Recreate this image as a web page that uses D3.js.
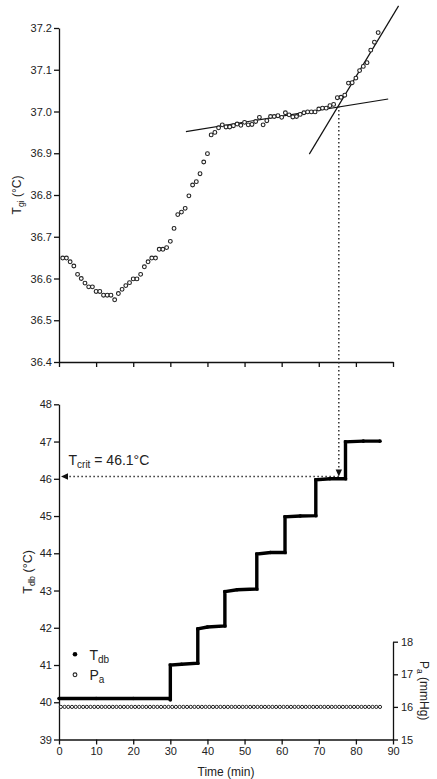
<!DOCTYPE html>
<html>
<head>
<meta charset="utf-8">
<script src="https://cdnjs.cloudflare.com/ajax/libs/d3/7.8.5/d3.min.js"></script>
<style>
  body { margin: 0; background: #fff; }
  text { font-family: "Liberation Sans", Arial, Helvetica, sans-serif; fill: #222; }
</style>
</head>
<body>
<div id="content"></div>
<script>
// core temperature (top panel), one reading per minute
var tgiTime = [1,2,3,4,5,6,7,8,9,10,11,12,13,14,15,16,17,18,19,20,21,22,23,24,25,26,27,28,29,30,
  31,32,33,34,35,36,37,38,39,40,41,42,43,44,45,46,47,48,49,50,51,52,53,54,55,56,57,58,59,60,
  61,62,63,64,65,66,67,68,69,70,71,72,73,74,75,76,77,78,79,80,81,82,83,84,85,86];
var tgiValue = [36.649,36.649,36.640,36.630,36.610,36.600,36.589,36.580,36.580,36.569,
  36.569,36.560,36.560,36.560,36.549,36.564,36.574,36.583,36.590,36.599,
  36.599,36.610,36.628,36.640,36.649,36.649,36.670,36.670,36.674,36.689,
  36.720,36.753,36.759,36.768,36.798,36.824,36.832,36.851,36.879,36.899,
  36.944,36.950,36.961,36.968,36.963,36.963,36.966,36.970,36.967,36.974,
  36.968,36.969,36.976,36.986,36.968,36.978,36.988,36.988,36.990,36.986,
  36.997,36.992,36.987,36.988,36.993,36.997,36.999,36.999,36.999,37.006,
  37.008,37.008,37.014,37.017,37.033,37.034,37.039,37.068,37.069,37.080,
  37.098,37.108,37.117,37.147,37.166,37.189];

// the two fitted lines (start / end)
var fitPlateauTime = [34.2, 88.7];
var fitPlateauValue = [36.952, 37.030];
var fitRiseTime = [67.45, 91.5];
var fitRiseValue = [36.898, 37.253];

// dry bulb temperature steps (bottom panel)
var tdbTime = [0, 10, 20, 29.8, 30, 30, 33, 37.4, 37.4, 40, 44.7, 44.7, 48, 53.3, 53.3, 57, 60.9,
  60.9, 65, 69.2, 69.2, 73, 77.2, 77.2, 82, 86.5];
var tdbValue = [40.10, 40.10, 40.10, 40.10, 40.06, 41.00, 41.02, 41.05, 41.97, 42.02, 42.05, 42.97,
  43.02, 43.04, 43.98, 44.02, 44.02, 44.98, 45.00, 45.01, 45.97, 46.00, 46.00, 46.99, 47.01, 47.01];

// water vapour pressure (right axis)
var paTime = [0.5,1.5,2.5,3.5,4.5,5.5,6.5,7.5,8.5,9.5,10.5,11.5,12.5,13.5,14.5,15.5,16.5,17.5,18.5,19.5,
  20.5,21.5,22.5,23.5,24.5,25.5,26.5,27.5,28.5,29.5,30.5,31.5,32.5,33.5,34.5,35.5,36.5,37.5,38.5,39.5,
  40.5,41.5,42.5,43.5,44.5,45.5,46.5,47.5,48.5,49.5,50.5,51.5,52.5,53.5,54.5,55.5,56.5,57.5,58.5,59.5,
  60.5,61.5,62.5,63.5,64.5,65.5,66.5,67.5,68.5,69.5,70.5,71.5,72.5,73.5,74.5,75.5,76.5,77.5,78.5,79.5,
  80.5,81.5,82.5,83.5,84.5,85.5,86.5];
var paValue = [16,16,16,16,16,16,16,16,16,16,16,16,16,16,16,16,16,16,16,16,
  16,16,16,16,16,16,16,16,16,16,16,16,16,16,16,16,16,16,16,16,
  16,16,16,16,16,16,16,16,16,16,16,16,16,16,16,16,16,16,16,16,
  16,16,16,16,16,16,16,16,16,16,16,16,16,16,16,16,16,16,16,16,
  16,16,16,16,16,16,16];

// critical point
var critTime = 75.4;
var critTgi = 37.013;
var critTdb = 46.06;
var critLabel = "46.1";

var xTicks = [0,10,20,30,40,50,60,70,80,90];
var tgiTicks = [36.4,36.5,36.6,36.7,36.8,36.9,37.0,37.1,37.2];
var tdbTicks = [39,40,41,42,43,44,45,46,47,48];
var paTicks = [15,16,17,18];

var width = 437, height = 779;
var svg = d3.select('div#content').append('svg')
  .attr('width', width)
  .attr('height', height);

var x = d3.scaleLinear().domain([0, 90]).range([59, 393]);
var yTop = d3.scaleLinear().domain([36.4, 37.2]).range([362, 28]);
var yBot = d3.scaleLinear().domain([39, 48]).range([739.5, 404.3]);
var yPa = d3.scaleLinear().domain([15, 18]).range([739.5, 641.7]);

function styleAxis(g){
  g.selectAll('path').attr('stroke', '#111').attr('stroke-width', 1.3);
  g.selectAll('line').attr('stroke', '#111').attr('stroke-width', 1.3);
  g.selectAll('text').attr('font-size', '11px').attr('font-family', '"Liberation Sans", Arial, sans-serif').attr('fill', '#222');
}

// ---- top panel axes
svg.append('g')
  .attr('transform', 'translate(' + x(0) + ',0)')
  .call(d3.axisLeft(yTop).tickValues(tgiTicks).tickFormat(d3.format('.1f')).tickSize(5).tickSizeOuter(0).tickPadding(2))
  .call(styleAxis);
svg.append('g')
  .attr('transform', 'translate(0,' + yTop(36.4) + ')')
  .call(d3.axisBottom(x).tickValues(xTicks).tickFormat('').tickSize(5).tickSizeOuter(0))
  .call(styleAxis);

// ---- bottom panel axes
svg.append('g')
  .attr('transform', 'translate(' + x(0) + ',0)')
  .call(d3.axisLeft(yBot).tickValues(tdbTicks).tickFormat(d3.format('d')).tickSize(5).tickSizeOuter(0).tickPadding(2))
  .call(styleAxis);
svg.append('g')
  .attr('transform', 'translate(0,' + yBot(39) + ')')
  .call(d3.axisBottom(x).tickValues(xTicks).tickFormat(d3.format('d')).tickSize(5).tickSizeOuter(0).tickPadding(3))
  .call(styleAxis);
svg.append('g')
  .attr('transform', 'translate(' + x(90) + ',0)')
  .call(d3.axisRight(yPa).tickValues(paTicks).tickFormat(d3.format('d')).tickSize(5).tickSizeOuter(0).tickPadding(3))
  .call(styleAxis);

// ---- axis titles
var tl = svg.append('text').attr('transform', 'translate(21,' + yTop(36.8) + ') rotate(-90)')
  .attr('text-anchor', 'middle').attr('font-size', '12px');
tl.append('tspan').text('T');
tl.append('tspan').attr('font-size', '8.5px').attr('dy', 3).text('gi');
tl.append('tspan').attr('dy', -3).text(' (\u00B0C)');

var bl = svg.append('text').attr('transform', 'translate(32,' + yBot(43.5) + ') rotate(-90)')
  .attr('text-anchor', 'middle').attr('font-size', '12.5px');
bl.append('tspan').text('T');
bl.append('tspan').attr('font-size', '9px').attr('dy', 3).text('db');
bl.append('tspan').attr('dy', -3).text(' (\u00B0C)');

var rl = svg.append('text').attr('transform', 'translate(420,' + yPa(16.5) + ') rotate(90)')
  .attr('text-anchor', 'middle').attr('font-size', '12px');
rl.append('tspan').text('P');
rl.append('tspan').attr('font-size', '8.5px').attr('dy', 3).text('a');
rl.append('tspan').attr('dy', -3).text(' (mmHg)');

svg.append('text').attr('x', (x(0) + x(90)) / 2).attr('y', 776)
  .attr('text-anchor', 'middle').attr('font-size', '12px').text('Time (min)');

// ---- fitted lines
var line = d3.line().x(function(d){ return x(d[0]); }).y(function(d){ return yTop(d[1]); });
svg.append('path').attr('d', line(d3.zip(fitPlateauTime, fitPlateauValue)))
  .attr('stroke', '#111').attr('stroke-width', 1.2).attr('fill', 'none');
svg.append('path').attr('d', line(d3.zip(fitRiseTime, fitRiseValue)))
  .attr('stroke', '#111').attr('stroke-width', 1.2).attr('fill', 'none');

// ---- Tgi points
svg.append('g').selectAll('circle')
  .data(d3.zip(tgiTime, tgiValue))
  .enter().append('circle')
  .attr('cx', function(d){ return x(d[0]); })
  .attr('cy', function(d){ return yTop(d[1]); })
  .attr('r', 1.9)
  .attr('fill', '#fff')
  .attr('stroke', '#222')
  .attr('stroke-width', 1.1);

// ---- dotted critical lines
var cx = x(critTime);
svg.append('line')
  .attr('x1', cx).attr('x2', cx)
  .attr('y1', yTop(critTgi)).attr('y2', yBot(critTdb) - 6)
  .attr('stroke', '#222').attr('stroke-width', 1.4).attr('stroke-dasharray', '1.4,2.6');
svg.append('path')
  .attr('d', 'M' + (cx - 3.2) + ',' + (yBot(critTdb) - 7) + 'L' + (cx + 3.2) + ',' + (yBot(critTdb) - 7) + 'L' + cx + ',' + yBot(critTdb) + 'Z')
  .attr('fill', '#111');
svg.append('line')
  .attr('x1', cx).attr('x2', x(0) + 8)
  .attr('y1', yBot(critTdb)).attr('y2', yBot(critTdb))
  .attr('stroke', '#222').attr('stroke-width', 1.4).attr('stroke-dasharray', '1.4,2.6');
svg.append('path')
  .attr('d', 'M' + (x(0) + 2) + ',' + yBot(critTdb) + 'L' + (x(0) + 9) + ',' + (yBot(critTdb) - 3.3) + 'L' + (x(0) + 9) + ',' + (yBot(critTdb) + 3.3) + 'Z')
  .attr('fill', '#111');

var ct = svg.append('text').attr('x', 68.5).attr('y', 464.5).attr('font-size', '14px');
ct.append('tspan').text('T');
ct.append('tspan').attr('font-size', '10px').attr('dy', 3).text('crit');
ct.append('tspan').attr('dy', -3).text(' = ' + critLabel + '\u00B0C');

// ---- Pa points
svg.append('g').selectAll('circle')
  .data(d3.zip(paTime, paValue))
  .enter().append('circle')
  .attr('cx', function(d){ return x(d[0]); })
  .attr('cy', function(d){ return yPa(d[1]); })
  .attr('r', 1.6)
  .attr('fill', '#fff')
  .attr('stroke', '#222')
  .attr('stroke-width', 1);

// ---- Tdb step line
var tdbLine = d3.line().x(function(d){ return x(d[0]); }).y(function(d){ return yBot(d[1]); });
svg.append('path').attr('d', tdbLine(d3.zip(tdbTime, tdbValue)))
  .attr('stroke', '#000').attr('stroke-width', 3.4).attr('fill', 'none')
  .attr('stroke-linejoin', 'miter');
svg.append('g').selectAll('circle')
  .data(d3.zip(tdbTime, tdbValue))
  .enter().append('circle')
  .attr('cx', function(d){ return x(d[0]); })
  .attr('cy', function(d){ return yBot(d[1]); })
  .attr('r', 1.8)
  .attr('fill', '#000');

// ---- legend
svg.append('circle').attr('cx', 75).attr('cy', 654.3).attr('r', 2.3).attr('fill', '#000');
var lg1 = svg.append('text').attr('x', 89.5).attr('y', 659.5).attr('font-size', '14px');
lg1.append('tspan').text('T');
lg1.append('tspan').attr('font-size', '10px').attr('dy', 3).text('db');
svg.append('circle').attr('cx', 75).attr('cy', 674.8).attr('r', 1.9)
  .attr('fill', '#fff').attr('stroke', '#222').attr('stroke-width', 1.1);
var lg2 = svg.append('text').attr('x', 89.5).attr('y', 680).attr('font-size', '14px');
lg2.append('tspan').text('P');
lg2.append('tspan').attr('font-size', '10px').attr('dy', 3).text('a');
</script>
</body>
</html>
